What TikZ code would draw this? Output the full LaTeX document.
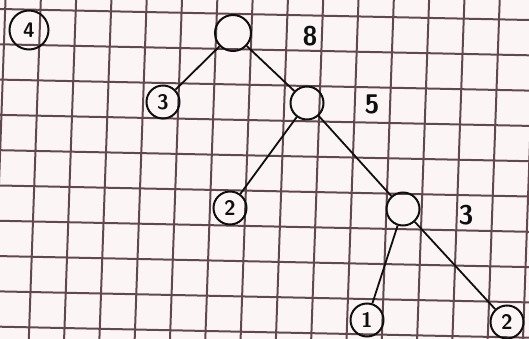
\documentclass[tikz,border=0pt]{standalone}
\usepackage{tikz}
\usetikzlibrary{positioning}
\definecolor{paperPink}{RGB}{252,245,245}
\definecolor{gridRed}{RGB}{98,72,78}
\definecolor{inkBlack}{RGB}{15,15,15}

\begin{document}
\begin{tikzpicture}[x=1pt, y=-1pt,
  gridline/.style={draw=gridRed, line width=2pt},
  leaf/.style={draw=inkBlack, circle, line width=2pt, minimum size=33pt, inner sep=0pt,
               font=\sffamily\bfseries\fontsize{21}{21}\selectfont, text=inkBlack},
  inner/.style={draw=inkBlack, circle, line width=2pt, minimum size=33pt, inner sep=0pt},
  weight/.style={font=\sffamily\bfseries\fontsize{27}{27}\selectfont, text=inkBlack},
  edge/.style={draw=inkBlack, line width=1.8pt},
]
  \fill[paperPink] (0,0) rectangle (529,339);
  \useasboundingbox (0,0) rectangle (529,339);

  % squared paper, a little skewed
  \begin{scope}
    \clip (0,0) rectangle (529,339);
    \foreach \k in {-1,...,16}
      \draw[gridline] ({5.5+35.3*\k},0) -- ({5.5+35.3*\k-12},339);
    \foreach \j in {-1,...,10}
      \draw[gridline] (0,{9+35.3*\j}) -- (529,{9+35.3*\j+11});
  \end{scope}

  % exercise number
  \node[leaf, minimum size=39pt] (tag) at (29,30) {4};

  % tree
  \node[inner, minimum size=36pt] (root) at (233,33) {};
  \node[leaf]  (leafA) at (163,102) {3};
  \node[inner] (midA)  at (307,103) {};
  \node[leaf]  (leafB) at (230,208) {2};
  \node[inner] (midB)  at (403,209) {};
  \node[leaf]  (leafC) at (367,320) {1};
  \node[leaf]  (leafD) at (507,322) {2};

  % weights
  \node[weight] (wRoot) at (310,36)  {8};
  \node[weight] (wMidA) at (372,104) {5};
  \node[weight] (wMidB) at (466,215) {3};

  \draw[edge] (root) -- (leafA);
  \draw[edge] (root) -- (midA);
  \draw[edge] (midA) -- (leafB);
  \draw[edge] (midA) -- (midB);
  \draw[edge] (midB) -- (leafC);
  \draw[edge] (midB) -- (leafD);
\end{tikzpicture}
\end{document}
